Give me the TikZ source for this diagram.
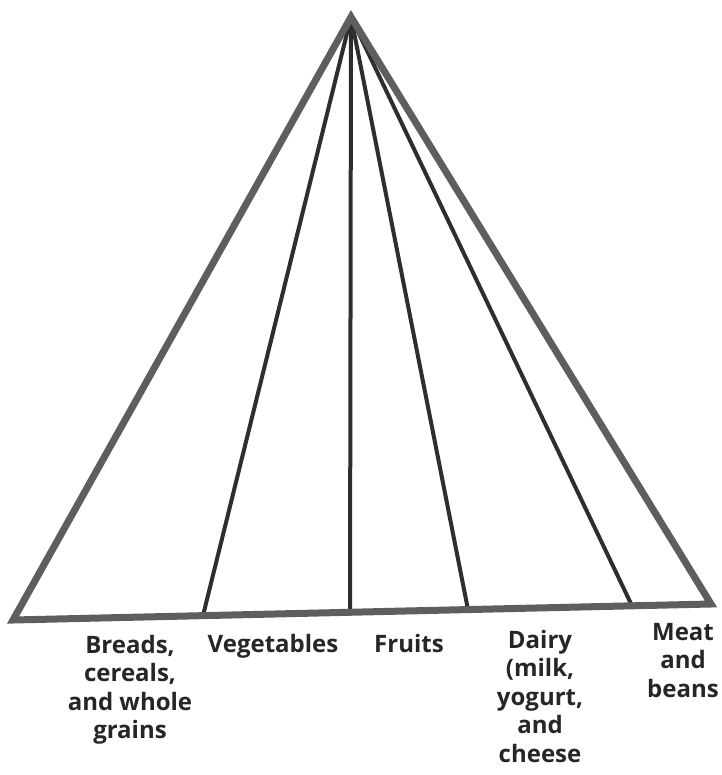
\documentclass[tikz,border=0pt]{standalone}
\usepackage{fontspec}
\setmainfont{Open Sans}
\usetikzlibrary{positioning}

\definecolor{pyredge}{HTML}{5E5E5E}
\definecolor{pyrline}{HTML}{2E2E2E}

\begin{document}
\begin{tikzpicture}[x=1pt, y=-1pt,
    outline/.style={draw=pyredge, line width=7pt, line join=miter},
    divider/.style={draw=pyrline, line width=4pt},
    group/.style={font=\bfseries\fontsize{24}{28.5}\selectfont, text=black!85,
      align=center, anchor=base, inner sep=0pt}]
  \useasboundingbox (0,0) rectangle (721,775);

  % corners of the pyramid
  \coordinate (apex) at (351,17);
  \coordinate (baseL) at (13,620);
  \coordinate (baseR) at (711,604);

  % where the dividers meet the base
  \coordinate (cut1) at (203,615.6);
  \coordinate (cut2) at (350,612.3);
  \coordinate (cut3) at (468,609.6);
  \coordinate (cut4) at (632,605.8);

  % dividers
  \foreach \c in {cut1,cut2,cut3,cut4}
    \draw[divider] (apex) -- (\c);

  % outline
  \draw[outline] (apex) -- (baseL) -- (baseR) -- cycle;

  % food groups (anchored at the baseline of the last line)
  \node[group] (grains) at (130,738.5) {Breads,\\cereals,\\and whole\\grains};
  \node[group] (veg) at (273,652) {Vegetables};
  \node[group] (fruit) at (409,652) {Fruits};
  \node[group] (dairy) at (540,762) {Dairy\\(milk,\\yogurt,\\and\\cheese};
  \node[group] (meat) at (683,697) {Meat\\and\\beans};
\end{tikzpicture}
\end{document}
